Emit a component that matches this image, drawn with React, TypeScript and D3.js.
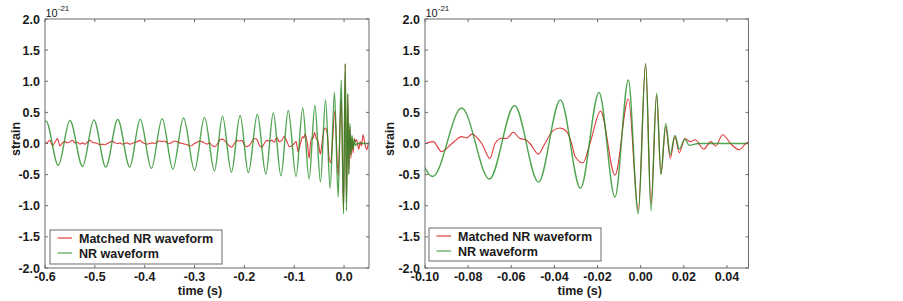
import React from "react";
import * as d3 from "d3";

const W = 903;
const H = 301;

const yTicks = [-2.0, -1.5, -1.0, -0.5, 0.0, 0.5, 1.0, 1.5, 2.0];
const leftXTicks = [-0.6, -0.5, -0.4, -0.3, -0.2, -0.1, 0.0];
const rightXTicks = [-0.1, -0.08, -0.06, -0.04, -0.02, 0.0, 0.02, 0.04];
const legendLabels = ["Matched NR waveform", "NR waveform"];
const xLabel = "time (s)";
const yLabel = "strain";

// NR waveform (green): extrema [time (s), strain (1e-21)]
const nrWaveform: [number, number][] = [
  [-0.622, -0.35], [-0.598, 0.36], [-0.5734, -0.35], [-0.55, 0.37], [-0.5246, -0.37],
  [-0.502, 0.38], [-0.478, -0.38], [-0.454, 0.385], [-0.43, -0.38], [-0.409, 0.39],
  [-0.3866, -0.4], [-0.365, 0.4], [-0.3434, -0.41], [-0.322, 0.41], [-0.3, -0.43],
  [-0.28, 0.42], [-0.26, -0.44], [-0.244, 0.44], [-0.226, -0.46], [-0.2086, 0.45],
  [-0.192, -0.47], [-0.174, 0.47], [-0.157, -0.49], [-0.142, 0.49], [-0.1266, -0.52],
  [-0.112, 0.53], [-0.0964, -0.53], [-0.083, 0.57], [-0.0701, -0.57], [-0.0585, 0.61],
  [-0.0474, -0.62], [-0.0372, 0.7], [-0.0279, -0.72], [-0.0193, 0.82], [-0.0119, -0.86],
  [-0.0057, 1.02], [-0.0011, -1.13], [0.0023, 1.28], [0.0048, -1.08], [0.0074, 0.81],
  [0.0094, -0.5], [0.0116, 0.32], [0.0137, -0.18], [0.0159, 0.13], [0.0179, -0.09],
  [0.0205, 0.07], [0.0225, -0.03], [0.027, 0.0], [0.06, 0.0],
];

// Matched NR waveform (red) [time (s), strain (1e-21)]
const matchedWaveform: [number, number][] = [
  [-0.6, 0.0], [-0.595, 0.02], [-0.59, 0.05], [-0.585, -0.03], [-0.58, 0.02],
  [-0.575, 0.08], [-0.57, -0.04], [-0.565, 0.01], [-0.56, 0.03], [-0.555, 0.01],
  [-0.55, 0.03], [-0.545, 0.05], [-0.54, 0.01], [-0.535, 0.02], [-0.53, -0.01],
  [-0.525, 0.01], [-0.52, -0.01], [-0.515, 0.02], [-0.51, 0.05], [-0.505, 0.02],
  [-0.5, 0.01], [-0.495, 0.0], [-0.49, -0.02], [-0.485, -0.01], [-0.48, -0.02],
  [-0.475, 0.0], [-0.47, 0.02], [-0.465, 0.04], [-0.46, 0.01], [-0.455, 0.0],
  [-0.45, 0.01], [-0.445, -0.01], [-0.44, 0.0], [-0.435, 0.01], [-0.43, -0.01],
  [-0.425, 0.0], [-0.42, 0.02], [-0.415, 0.03], [-0.41, 0.05], [-0.405, 0.02],
  [-0.4, 0.0], [-0.395, -0.01], [-0.39, 0.0], [-0.385, 0.01], [-0.38, 0.0],
  [-0.375, 0.03], [-0.37, 0.04], [-0.365, 0.03], [-0.36, 0.04], [-0.355, 0.01],
  [-0.35, 0.0], [-0.345, 0.02], [-0.34, 0.04], [-0.335, 0.03], [-0.33, 0.01],
  [-0.325, 0.0], [-0.32, -0.01], [-0.315, -0.02], [-0.31, -0.04], [-0.305, -0.03],
  [-0.3, 0.0], [-0.295, 0.02], [-0.29, 0.04], [-0.285, 0.03], [-0.28, 0.01],
  [-0.275, -0.01], [-0.27, 0.01], [-0.265, -0.03], [-0.26, -0.05], [-0.255, -0.02],
  [-0.25, 0.05], [-0.245, 0.07], [-0.24, 0.05], [-0.235, 0.0], [-0.23, -0.04],
  [-0.225, -0.06], [-0.22, 0.0], [-0.215, 0.05], [-0.21, 0.04], [-0.205, 0.05],
  [-0.2, -0.02], [-0.195, -0.05], [-0.19, -0.03], [-0.185, 0.03], [-0.18, 0.08],
  [-0.175, 0.07], [-0.17, -0.03], [-0.165, -0.06], [-0.16, 0.0], [-0.155, 0.05],
  [-0.15, 0.04], [-0.145, 0.05], [-0.14, 0.02], [-0.135, 0.1], [-0.13, 0.03],
  [-0.125, 0.05], [-0.12, 0.11], [-0.115, 0.04], [-0.11, -0.05], [-0.105, -0.04],
  [-0.1, 0.0], [-0.0962, 0.03], [-0.0923, -0.13], [-0.0875, 0.0], [-0.083, 0.11],
  [-0.0807, 0.09], [-0.0783, 0.15], [-0.0737, 0.0], [-0.0699, -0.24], [-0.0675, 0.0],
  [-0.0644, 0.085], [-0.0621, 0.08], [-0.0591, 0.18], [-0.056, 0.08], [-0.0533, 0.06],
  [-0.0513, 0.0], [-0.0475, -0.17], [-0.0444, 0.0], [-0.0405, 0.21], [-0.0374, 0.25],
  [-0.0343, 0.19], [-0.032, 0.0], [-0.0305, -0.2], [-0.0268, -0.31], [-0.0235, 0.0],
  [-0.0186, 0.52], [-0.0119, -0.51], [-0.0057, 0.72], [-0.0011, -1.07], [0.0023, 1.28],
  [0.0048, -0.97], [0.0074, 0.78], [0.0094, -0.48], [0.0116, 0.27], [0.0137, -0.24],
  [0.0159, 0.11], [0.0179, -0.15], [0.0205, 0.08], [0.0229, 0.03], [0.0252, 0.06],
  [0.0293, -0.09], [0.0325, 0.03], [0.0348, -0.04], [0.038, 0.14], [0.0422, -0.02],
  [0.0457, -0.1], [0.0491, 0.01], [0.0505, 0.02],
];

const FONT = "'Liberation Sans', Arial, Helvetica, sans-serif";
const TEXT = "#1a1a1a";
const FRAME = "#6a6a6a";
const RED = "#e03c3c";
const GREEN = "#1f8c1f";

type PanelCfg = {
  id: string;
  x0: number;
  x1: number;
  domain: [number, number];
  xTicks: number[];
  digits: number;
  legend: { x: number; y: number; w: number; h: number };
  yLabelX: number;
};

const panels: PanelCfg[] = [
  {
    id: "left",
    x0: 45,
    x1: 369,
    domain: [-0.6, 0.05],
    xTicks: leftXTicks,
    digits: 1,
    legend: { x: 50, y: 230, w: 172, h: 34 },
    yLabelX: 16,
  },
  {
    id: "right",
    x0: 425,
    x1: 748.5,
    domain: [-0.1, 0.05],
    xTicks: rightXTicks,
    digits: 2,
    legend: { x: 429, y: 228, w: 172, h: 33 },
    yLabelX: 390,
  },
];

const Y0 = 19;
const Y1 = 268;

function fmt(v: number, digits: number) {
  return Math.abs(v) < 1e-12 ? (0).toFixed(digits) : v.toFixed(digits);
}

function Panel({ cfg }: { cfg: PanelCfg }) {
  const x = d3.scaleLinear().domain(cfg.domain).range([cfg.x0, cfg.x1]);
  const y = d3.scaleLinear().domain([-2, 2]).range([Y1, Y0]);
  const line = d3
    .line<[number, number]>()
    .x((d) => x(d[0]))
    .y((d) => y(d[1]))
    .curve(d3.curveMonotoneX);
  const clipId = `clip-${cfg.id}`;
  const tl = 3;
  const lg = cfg.legend;
  const cx = (cfg.x0 + cfg.x1) / 2;
  return (
    <g>
      <defs>
        <clipPath id={clipId}>
          <rect x={cfg.x0} y={Y0} width={cfg.x1 - cfg.x0} height={Y1 - Y0} />
        </clipPath>
      </defs>
      <g clipPath={`url(#${clipId})`}>
        <path d={line(matchedWaveform) || ""} fill="none" stroke={RED} strokeWidth={1.1} />
        <path d={line(nrWaveform) || ""} fill="none" stroke={GREEN} strokeOpacity={0.78} strokeWidth={1.4} />
      </g>
      <rect x={cfg.x0} y={Y0} width={cfg.x1 - cfg.x0} height={Y1 - Y0} fill="none" stroke={FRAME} strokeWidth={1} />
      {yTicks.map((v) => (
        <g key={`y${v}`}>
          <line x1={cfg.x0} x2={cfg.x0 + tl} y1={y(v)} y2={y(v)} stroke={FRAME} />
          <line x1={cfg.x1 - tl} x2={cfg.x1} y1={y(v)} y2={y(v)} stroke={FRAME} />
          <text
            x={cfg.x0 - 5}
            y={y(v) + 4.5}
            textAnchor="end"
            fontFamily={FONT}
            fontWeight="bold"
            fontSize={12.5}
            fill={TEXT}
          >
            {fmt(v, 1)}
          </text>
        </g>
      ))}
      {cfg.xTicks.map((v) => (
        <g key={`x${v}`}>
          <line x1={x(v)} x2={x(v)} y1={Y0} y2={Y0 + tl} stroke={FRAME} />
          <line x1={x(v)} x2={x(v)} y1={Y1 - tl} y2={Y1} stroke={FRAME} />
          <text
            x={x(v)}
            y={280.5}
            textAnchor="middle"
            fontFamily={FONT}
            fontWeight="bold"
            fontSize={12.5}
            fill={TEXT}
          >
            {fmt(v, cfg.digits)}
          </text>
        </g>
      ))}
      <text x={cx - 7} y={295} textAnchor="middle" fontFamily={FONT} fontWeight="bold" fontSize={12.5} fill={TEXT}>
        {xLabel}
      </text>
      <text
        transform={`translate(${cfg.yLabelX + 4},139) rotate(-90)`}
        textAnchor="middle"
        fontFamily={FONT}
        fontWeight="bold"
        fontSize={12.5}
        fill={TEXT}
      >
        {yLabel}
      </text>
      <text x={cfg.x0 + 0.5} y={16.5} fontFamily={FONT} fontSize={11} fill={TEXT}>
        10
        <tspan dy={-5.5} fontSize={8}>
          -21
        </tspan>
      </text>
      <rect x={lg.x} y={lg.y} width={lg.w} height={lg.h} fill="#fff" stroke={FRAME} strokeWidth={1} />
      {legendLabels.map((lab, i) => {
        const ly = lg.y + 8 + i * 15;
        return (
          <g key={lab}>
            <line
              x1={lg.x + 7.5}
              x2={lg.x + 22}
              y1={ly}
              y2={ly}
              stroke={i === 0 ? RED : GREEN}
              strokeOpacity={i === 0 ? 1 : 0.78}
              strokeWidth={1.2}
            />
            <text x={lg.x + 29} y={ly + 5} fontFamily={FONT} fontWeight="bold" fontSize={12.5} fill={TEXT}>
              {lab}
            </text>
          </g>
        );
      })}
    </g>
  );
}

export default function App() {
  return (
    <svg
      width={W}
      height={H}
      viewBox={`0 0 ${W} ${H}`}
      style={{ position: "absolute", left: 0, top: 0, background: "#fff" }}
    >
      <rect x={0} y={0} width={W} height={H} fill="#fff" />
      {panels.map((p) => (
        <Panel key={p.id} cfg={p} />
      ))}
    </svg>
  );
}
